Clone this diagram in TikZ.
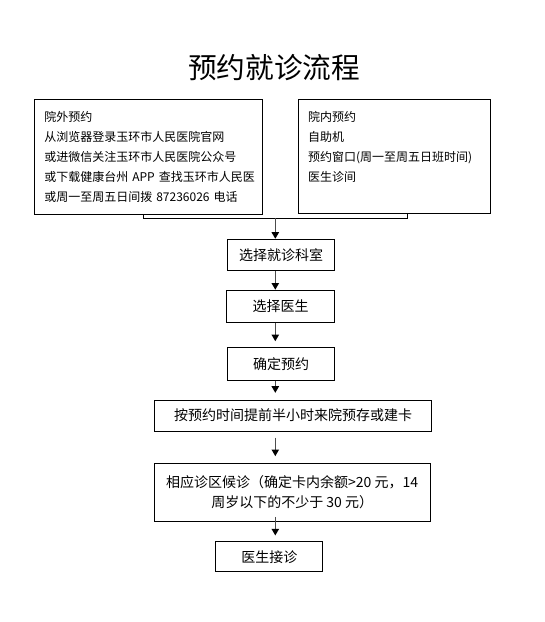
\documentclass[tikz,border=0pt]{standalone}
\usepackage{fontspec}
\newfontfamily\cjk{Noto Sans CJK SC}
\usetikzlibrary{arrows.meta}
\tikzset{
  box/.style={draw=black,line width=0.75pt,inner sep=0pt,align=center,
    font=\cjk\fontsize{10.5}{14.5}\selectfont},
  infobox/.style={draw=black,line width=0.75pt,align=left,inner xsep=7.3pt,
    font=\cjk\fontsize{9}{15}\selectfont},
  arr/.style={->,black!70,line width=1pt},
}
\begin{document}
\begin{tikzpicture}[x=0.75pt,y=-0.75pt,>={Triangle[length=5pt,width=5.5pt,color=black]}]
\useasboundingbox (0,0) rectangle (544,622);
% Titel
\node[font=\cjk\fontsize{21.5}{24}\selectfont] (title) at (274,68) {预约就诊流程};
% Zwei Wege der Voranmeldung
\node[infobox,text width=156pt,minimum height=86.25pt] (outside) at (148.3,156.6)
  {院外预约\\从浏览器登录玉环市人民医院官网\\或进微信关注玉环市人民医院公众号\\或下载健康台州~APP~查找玉环市人民医\\或周一至周五日间拨~87236026~电话};
\node[infobox,text width=129.7pt,minimum height=86pt] (inside) at (394.5,156.5)
  {院内预约\\自助机\\预约窗口(周一至周五日班时间)\\医生诊间\\~};
% Klammer unter beiden Kästen
\coordinate (jl) at (143.3,218.3);
\coordinate (jr) at (407.3,218.3);
\coordinate (join) at (275.3,218.3);
\draw[line width=0.75pt] (jl |- outside.south) -- (jl) -- (jr) -- (jr |- inside.south);
% Ablauf
\node[box,minimum width=80.6pt,minimum height=23.25pt] (dept) at (281,254.8) {选择就诊科室};
\node[box,minimum width=80.6pt,minimum height=24pt] (doctor) at (280.5,306.2) {选择医生};
\node[box,minimum width=80.6pt,minimum height=24.2pt] (confirm) at (281.2,363.9) {确定预约};
\node[box,minimum width=208pt,minimum height=23.25pt] (card) at (293,415.5) {按预约时间提前半小时来院预存或建卡};
\node[box,minimum width=206.8pt,minimum height=43.3pt] (wait) at (292.2,492.2)
  {相应诊区候诊（确定卡内余额>20 元，14\\周岁以下的不少于 30 元）};
\node[box,minimum width=80pt,minimum height=22.5pt] (visit) at (269.3,556.7) {医生接诊};
% Pfeile
\draw[arr] (join) -- (join |- dept.north);
\draw[arr] (dept.south -| join) -- (doctor.north -| join);
\draw[arr,shorten >=4.5pt] (doctor.south -| join) -- (confirm.north -| join);
\draw[arr,shorten >=5pt] (confirm.south -| join) -- (card.north -| join);
\draw[arr,shorten <=4.5pt,shorten >=5pt] (card.south -| join) -- (wait.north -| join);
\draw[arr,shorten <=-3.5pt,shorten >=4.3pt] (wait.south -| join) -- (visit.north -| join);
\end{tikzpicture}
\end{document}
